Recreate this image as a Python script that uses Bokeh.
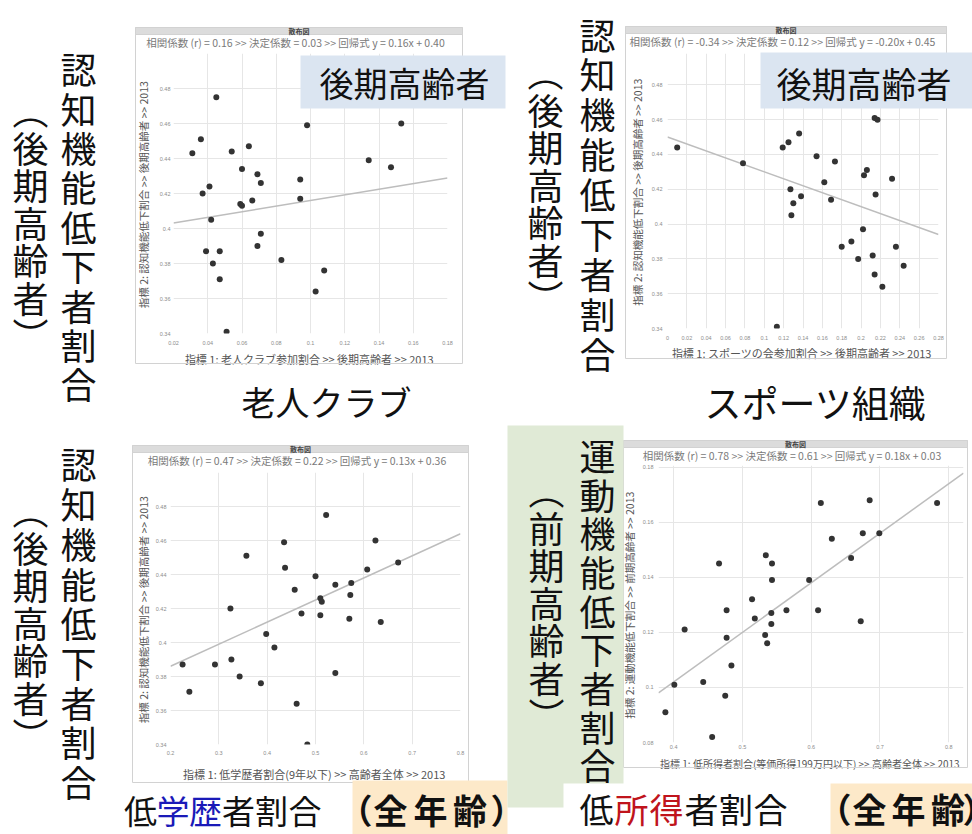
from bokeh.plotting import figure
from bokeh.layouts import column
from bokeh.models import Range1d, FixedTicker, CustomJSTickFormatter, Label, BoxAnnotation, GridBox
from bokeh.embed import file_html
from bokeh.resources import INLINE

JP = "Noto Sans CJK JP"

# ---------------- data ----------------
# 老人クラブ参加割合 vs 認知機能低下割合 (後期高齢者)
club_rate = [0.045, 0.036, 0.031, 0.054, 0.064, 0.060, 0.069, 0.094, 0.098, 0.134,
             0.147, 0.153, 0.071, 0.041, 0.037, 0.066, 0.059, 0.060, 0.094, 0.042,
             0.071, 0.069, 0.039, 0.047, 0.083, 0.043, 0.108, 0.047, 0.103, 0.051]
club_cog = [0.475, 0.451, 0.443, 0.444, 0.447, 0.434, 0.431, 0.428, 0.459, 0.439,
            0.435, 0.460, 0.426, 0.424, 0.420, 0.416, 0.414, 0.413, 0.417, 0.405,
            0.397, 0.390, 0.387, 0.387, 0.382, 0.380, 0.376, 0.371, 0.364, 0.341]

# スポーツの会参加割合 vs 認知機能低下割合 (後期高齢者)
sport_rate = [0.010, 0.078, 0.119, 0.125, 0.136, 0.154, 0.173, 0.214, 0.217, 0.203,
              0.206, 0.232, 0.127, 0.130, 0.138, 0.128, 0.162, 0.169, 0.215, 0.202,
              0.190, 0.180, 0.197, 0.212, 0.236, 0.244, 0.214, 0.222, 0.113]
sport_cog = [0.444, 0.435, 0.444, 0.447, 0.452, 0.439, 0.436, 0.461, 0.460, 0.428,
             0.431, 0.426, 0.420, 0.412, 0.416, 0.405, 0.424, 0.414, 0.417, 0.397,
             0.390, 0.387, 0.380, 0.382, 0.387, 0.376, 0.371, 0.364, 0.341]

# 低学歴者割合 vs 認知機能低下割合 (後期高齢者)
edu_rate = [0.522, 0.435, 0.624, 0.357, 0.437, 0.671, 0.607, 0.500, 0.541, 0.574,
            0.457, 0.572, 0.510, 0.513, 0.324, 0.471, 0.510, 0.570, 0.635, 0.398,
            0.415, 0.225, 0.292, 0.326, 0.343, 0.387, 0.541, 0.239, 0.461, 0.483]
edu_cog = [0.475, 0.459, 0.460, 0.451, 0.444, 0.447, 0.443, 0.439, 0.434, 0.435,
           0.431, 0.428, 0.426, 0.424, 0.420, 0.417, 0.416, 0.414, 0.412, 0.405,
           0.397, 0.387, 0.387, 0.390, 0.380, 0.376, 0.382, 0.371, 0.364, 0.340]

# 低所得者割合 vs 運動機能低下割合 (前期高齢者)
inc_rate = [0.614, 0.685, 0.783, 0.675, 0.699, 0.630, 0.466, 0.534, 0.543, 0.658,
            0.543, 0.597, 0.514, 0.477, 0.564, 0.610, 0.542, 0.518, 0.542, 0.672,
            0.416, 0.533, 0.477, 0.536, 0.484, 0.443, 0.401, 0.475, 0.388, 0.456]
inc_motor = [0.167, 0.168, 0.167, 0.156, 0.156, 0.154, 0.145, 0.148, 0.145, 0.147,
             0.139, 0.139, 0.132, 0.128, 0.128, 0.128, 0.127, 0.125, 0.123, 0.124,
             0.121, 0.119, 0.118, 0.116, 0.108, 0.102, 0.101, 0.097, 0.091, 0.082]

# regression statistics shown above each chart
corr_r = [0.16, -0.34, 0.47, 0.78]
det_r2 = [0.03, 0.12, 0.22, 0.61]
reg_slope = [0.16, -0.20, 0.13, 0.18]
reg_icpt = [0.40, 0.45, 0.36, 0.03]

# tick values
club_xticks = [0.02, 0.04, 0.06, 0.08, 0.10, 0.12, 0.14, 0.16, 0.18]
sport_xticks = [0.0, 0.02, 0.04, 0.06, 0.08, 0.10, 0.12, 0.14, 0.16, 0.18, 0.20,
                0.22, 0.24, 0.26, 0.28]
edu_xticks = [0.2, 0.3, 0.4, 0.5, 0.6, 0.7, 0.8]
inc_xticks = [0.4, 0.5, 0.6, 0.7, 0.8]
cog_yticks = [0.34, 0.36, 0.38, 0.40, 0.42, 0.44, 0.46, 0.48]
motor_yticks = [0.08, 0.10, 0.12, 0.14, 0.16, 0.18]

x_titles = ["指標 1:  老人クラブ参加割合 >> 後期高齢者 >> 2013",
            "指標 1:  スポーツの会参加割合 >> 後期高齢者 >> 2013",
            "指標 1:  低学歴者割合(9年以下) >> 高齢者全体 >> 2013",
            "指標 1:  低所得者割合(等価所得199万円以下) >> 高齢者全体 >> 2013"]
y_titles = ["指標 2:  認知機能低下割合 >> 後期高齢者 >> 2013",
            "指標 2:  認知機能低下割合 >> 後期高齢者 >> 2013",
            "指標 2:  認知機能低下割合 >> 後期高齢者 >> 2013",
            "指標 2:  運動機能低下割合 >> 前期高齢者 >> 2013"]

fmt = CustomJSTickFormatter(code="return String(Number(tick.toFixed(2)));")

# ---------------- overlay layer (page pixel coordinates, y downwards) ----------------
decor = figure(width=972, height=834, x_range=Range1d(0, 972), y_range=Range1d(834, 0),
               output_backend="svg", toolbar_location=None, tools="", title=None,
               x_axis_type=None, y_axis_type=None, min_border=0,
               min_border_left=0, min_border_right=0, min_border_top=0, min_border_bottom=0,
               background_fill_alpha=0, border_fill_alpha=0, outline_line_color=None)


def txt(x, y, s, size, color="#111111", bold=False, align="center", baseline="middle"):
    decor.add_layout(Label(x=x, y=y, text=s, text_font=JP, text_font_size=f"{size}px",
                           text_color=color, text_font_style="bold" if bold else "normal",
                           text_align=align, text_baseline=baseline))


def box(l, r, t, b, fill=None, line=None):
    decor.add_layout(BoxAnnotation(left=l, right=r, top=t, bottom=b,
                                   fill_color=fill, fill_alpha=1.0 if fill else 0.0,
                                   line_color=line, line_alpha=1.0 if line else 0.0,
                                   line_width=1))


def vertical(x, y0, step, chars, size=36):
    for i, ch in enumerate(chars):
        txt(x, y0 + step * i, ch, size)


def chart_header(i, panel):
    pl, pr, pt, pb = panel
    box(pl, pr, pt, pb, fill=None, line="#d2d2d2")
    box(pl, pr, pt, pt + 7, fill="#dcdcdc", line="#d2d2d2")
    cx = (pl + pr) / 2
    txt(cx, pt + 3.6, "散布図", 7, color="#444444", bold=True)
    stats = (f"相関係数 (r) = {corr_r[i]:.2f}  >> 決定係数 =  {det_r2[i]:.2f} >> "
             f"回帰式 y = {reg_slope[i]:.2f}x  + {reg_icpt[i]:.2f}")
    txt(cx, pt + 15, stats, 10.5, color="#7a7a7a")


def scatter_panel(i, geom, xr, yr, xticks, yticks, xs, ys, stand, xlab_size=11):
    x0, y0, w, h, L, R, T, B = geom
    p = figure(width=w, height=h, x_range=Range1d(*xr), y_range=Range1d(*yr),
               output_backend="svg", toolbar_location=None, tools="", title=None,
               min_border_left=L - x0, min_border_right=x0 + w - R,
               min_border_top=T - y0, min_border_bottom=y0 + h - B,
               background_fill_color="white", border_fill_color="white",
               outline_line_color=None)
    p.xaxis.ticker = FixedTicker(ticks=xticks)
    p.yaxis.ticker = FixedTicker(ticks=yticks)
    p.xgrid.ticker = FixedTicker(ticks=xticks)
    p.ygrid.ticker = FixedTicker(ticks=yticks)
    p.xgrid.grid_line_color = "#e6e6e6"
    p.ygrid.grid_line_color = "#e6e6e6"
    for ax in (p.xaxis[0], p.yaxis[0]):
        ax.formatter = fmt
        ax.axis_line_color = None
        ax.major_tick_line_color = None
        ax.minor_tick_line_color = None
        ax.major_tick_out = 0
        ax.major_tick_in = 0
        ax.major_label_text_font_size = "5.5px"
        ax.major_label_text_color = "#8c8c8c"
        ax.axis_label_text_font = JP
        ax.axis_label_text_font_style = "normal"
        ax.axis_label_text_color = "#555555"
    p.xaxis[0].axis_label = x_titles[i]
    p.yaxis[0].axis_label = y_titles[i]
    p.xaxis[0].axis_label_text_font_size = f"{xlab_size}px"
    p.yaxis[0].axis_label_text_font_size = "10.5px"
    p.xaxis[0].major_label_standoff = stand[0]
    p.xaxis[0].axis_label_standoff = stand[1]
    p.yaxis[0].major_label_standoff = stand[2]
    p.yaxis[0].axis_label_standoff = stand[3]

    # regression line from the stated equation
    lx = [xr[0], xr[1]]
    ly = [reg_slope[i] * v + reg_icpt[i] for v in lx]
    p.line(lx, ly, line_color="#bdbdbd", line_width=1.5)
    p.scatter(xs, ys, size=6, fill_color="#333333", line_color=None)
    return p


# ---------- top-left: 老人クラブ ----------
tl = scatter_panel(0, (0, 0, 510, 422, 173, 447, 53, 333), (0.02, 0.18), (0.34, 0.50),
                   club_xticks, cog_yticks, club_rate, club_cog, (7, 3, 3, 6))
chart_header(0, (135, 462, 27, 363))
box(300, 505, 55, 108, fill="#dbe5f1")
txt(404, 82, "後期高齢者", 34)
vertical(78, 67.7, 39.4, "認知機能低下者割合")
vertical(30, 108.75, 37.5, "︵後期高齢者︶")
txt(326, 401, "老人クラブ", 34)

# ---------- top-right: スポーツ組織 ----------
tr = scatter_panel(1, (510, 0, 462, 422, 667, 938, 53, 328), (0.0, 0.28), (0.34, 0.498),
                   sport_xticks, cog_yticks, sport_rate, sport_cog, (7, 2, 5, 4))
chart_header(1, (625, 946, 26, 358))
box(760, 973, 52, 108, fill="#dbe5f1")
txt(863.5, 82, "後期高齢者", 35)
vertical(597, 33, 39.9, "認知機能低下者割合")
vertical(545, 70.75, 37.5, "︵後期高齢者︶")
txt(815, 401, "スポーツ組織", 37)

# ---------- bottom-left: 低学歴者割合 ----------
bl = scatter_panel(2, (0, 422, 507, 412, 170, 460, 472, 744), (0.2, 0.8), (0.34, 0.50),
                   edu_xticks, cog_yticks, edu_rate, edu_cog, (6, 8, 4, 2))
chart_header(2, (132, 468, 445, 782))
box(352, 507, 780, 834, fill="#fde9c9")
vertical(78, 462.9, 39.7, "認知機能低下者割合")
vertical(30, 508.75, 37.5, "︵後期高齢者︶")
for ch, cx, col in [("低", 140, "#111111"), ("学", 172.5, "#1a1ab8"), ("歴", 205, "#1a1ab8"),
                    ("者", 238, "#111111"), ("割", 271, "#111111"), ("合", 304.5, "#111111")]:
    txt(cx, 809, ch, 33, color=col)
for ch, cx in [("（", 355), ("全", 390), ("年", 430), ("齢", 469.5), ("）", 507)]:
    txt(cx, 809, ch, 34, bold=True)

# ---------- bottom-right: 低所得者割合 ----------
br = scatter_panel(3, (507, 422, 465, 412, 658, 963, 465, 742), (0.378, 0.8214), (0.08, 0.1806),
                   inc_xticks, motor_yticks, inc_rate, inc_motor, (2, 4, 5, 3), xlab_size=10)
chart_header(3, (623, 967, 440, 767))
box(507, 623, 425, 807, fill="#e0ead6")
vertical(597, 454.3, 38.7, "運動機能低下者割合")
vertical(546, 488.75, 37.5, "︵前期高齢者︶")
box(563, 830, 783, 834, fill="#ffffff")
box(830, 972, 783, 834, fill="#fde9c9")
for ch, cx, col in [("低", 596, "#111111"), ("所", 631, "#c0141c"), ("得", 666, "#c0141c"),
                    ("者", 701, "#111111"), ("割", 735.5, "#111111"), ("合", 770, "#111111")]:
    txt(cx, 808, ch, 34, color=col)
for ch, cx in [("（", 834), ("全", 869), ("年", 908), ("齢", 947.5), ("）", 979)]:
    txt(cx, 808, ch, 34, bold=True)

# charts in their cells (each in its own box so frames are laid out independently),
# the annotation layer stacked over the whole page
page = GridBox(children=[(column(tl), 0, 0, 1, 2), (column(tr), 0, 2, 1, 1),
                         (column(bl), 1, 0, 1, 1), (column(br), 1, 1, 1, 2),
                         (column(decor), 0, 0, 2, 3)],
               rows=["422px", "412px"], cols=["507px", "3px", "462px"])
open("out.html", "w").write(file_html(page, INLINE))
